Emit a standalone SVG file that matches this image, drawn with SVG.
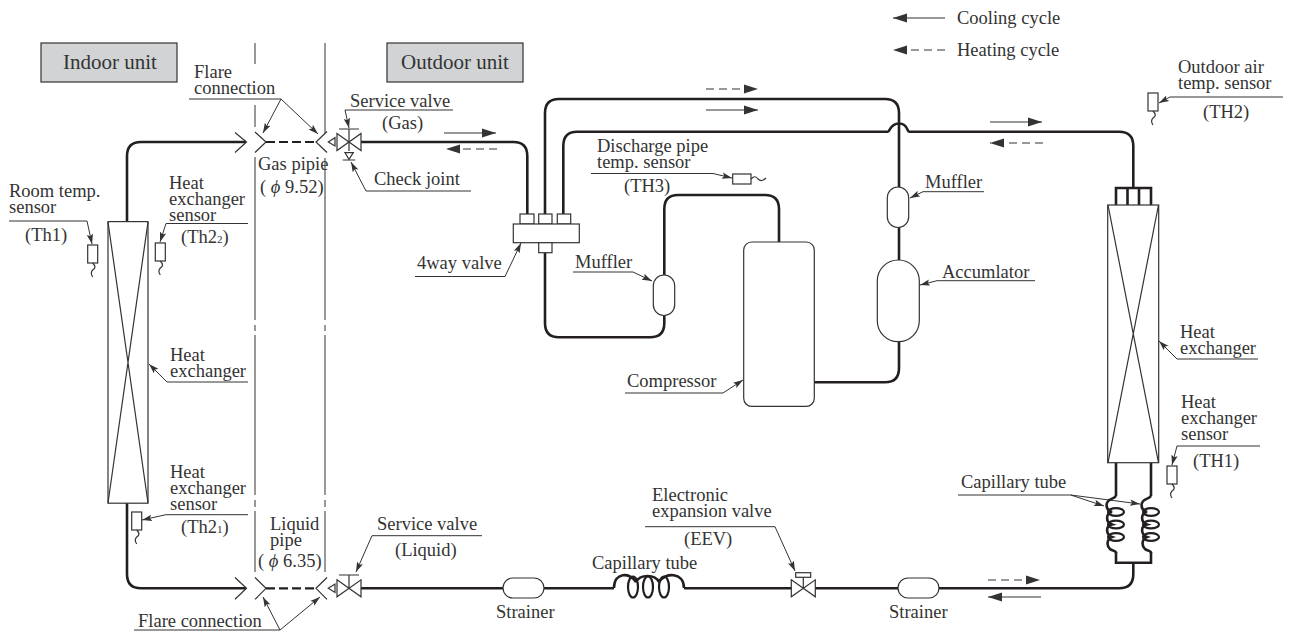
<svg xmlns="http://www.w3.org/2000/svg" width="1290" height="631" viewBox="0 0 1290 631">
<style>
text{font-family:"Liberation Serif","Times New Roman",serif;font-size:18.5px;fill:#333}
.big{font-size:21px}
.sub{font-size:11px}
.ital{font-style:italic}
.box{fill:#d1d3d4;stroke:#333;stroke-width:1.2}
.pipe{fill:none;stroke:#231f20;stroke-width:2.6}
.thin{fill:none;stroke:#333;stroke-width:1.2}
.sh{fill:#fff;stroke:#333;stroke-width:1.2}
.lead{fill:none;stroke:#333;stroke-width:1}
.arr{marker-end:url(#small)}
.flow{fill:none;stroke:#333;stroke-width:1.1;marker-end:url(#big)}
.dash{stroke-dasharray:8 5}
.pdash{fill:none;stroke:#231f20;stroke-width:2.2;stroke-dasharray:9 4}
.vl{fill:none;stroke:#555;stroke-width:1.2}
.loop{fill:none;stroke:#231f20;stroke-width:2.2}
</style>
<defs>
<marker id="small" markerUnits="userSpaceOnUse" markerWidth="11" markerHeight="8" refX="10" refY="4" orient="auto"><path d="M0,0.8 L10,4 L0,7.2 L2,4 Z" fill="#333"/></marker>
<marker id="big" markerUnits="userSpaceOnUse" markerWidth="15" markerHeight="10" refX="14" refY="5" orient="auto"><path d="M0,0.5 L14,5 L0,9.5 Z" fill="#333"/></marker>
<g id="sensor"><rect x="0" y="0" width="10" height="18" class="sh"/><path d="M5,18 c3,3 3,5 0,7 c-2,2 -2,4 0,7" class="thin"/></g>
<g id="vlv"><path d="M-12,-8.5 L12,8.5 L12,-8.5 L-12,8.5 Z" class="sh"/></g>
<g id="coil"><path d="M0,0 C-3,4 -9,2 -9.5,9 C-9.5,13 -7,15 -4,16 C-10,17 -11,26 -4,28.5 C-11,30 -10,39 -4,41 C-9.5,43 -9.5,50 -6,53 C-4,55 0,54 0,57" class="pipe"/><ellipse cx="0" cy="16" rx="8" ry="3.8" class="loop"/><ellipse cx="0" cy="28.5" rx="8" ry="3.8" class="loop"/><ellipse cx="0" cy="41" rx="8" ry="3.8" class="loop"/></g>
</defs>
<rect width="1290" height="631" fill="#fff"/>

<g id="connectors">
<path class="vl" d="M255,43V64M255,105V127M255,157V320M255,325V331M255,335V495M255,500V507M255,511V572"/>
<path class="vl" d="M325,43V133M325,158V320M325,325V331M325,335V495M325,500V507M325,511V572"/>
<path class="pipe" d="M127,222V156Q127,142 141,142H246"/>
<path class="pdash" d="M266,142H316"/>
<path class="pipe" d="M361,142H513.5Q527.3,142 527.3,156V214"/>
<path class="pipe" d="M545,214V113Q545,99 559,99H885Q899,99 899,113V187"/>
<path class="pipe" d="M899,227V260"/>
<path class="pipe" d="M899,342V368Q899,382.3 885,382.3H814"/>
<path class="pipe" d="M563.3,214V146Q563.3,131.7 577,131.7H888C890,131.7 890,123.5 899,123.5C908,123.5 907,131.7 909,131.7H1119Q1133.3,131.7 1133.3,146V188"/>
<path class="pipe" d="M1116,205V188H1151V205M1127.5,188V205M1139,188V205"/>
<path class="pipe" d="M545,253V323Q545,337.3 559,337.3H650Q664.3,337.3 664.3,323V315"/>
<path class="pipe" d="M664.3,275V209Q664.3,195 678,195H765Q779,195 779,209V242"/>
<path class="pipe" d="M1116,463V496M1151,463V496M1116,552V562.7H1151V552"/>
<path class="pipe" d="M1133.3,563V574Q1133.3,588.3 1119,588.3H938"/>
<path class="pipe" d="M127,503V574Q127,588.3 141,588.3H246"/>
<path class="pdash" d="M266,588.3H316"/>
<path class="pipe" d="M361,588.3H503M544,588.3H614M684,588.3H792M815,588.3H898"/>
<path class="thin" d="M235,132.5L246.5,142L235,152.5M235,577.5L246.5,588.3L235,599.3"/>
<path class="thin" d="M255,132L266,142L255,152.5M327,131.5L316,142L327,152.5M255,577.5L266,588.3L255,599.3M327,577.5L316,588.3L327,599.3"/>
<path class="flow" d="M444,133H496"/>
<path class="flow dash" d="M497,149H446"/>
<path class="flow dash" d="M706,89H758"/>
<path class="flow" d="M706,110H758"/>
<path class="flow" d="M990,122H1042"/>
<path class="flow dash" d="M1043,143H990"/>
<path class="flow dash" d="M988,580H1040"/>
<path class="flow" d="M1041,597H988"/>
<path class="flow" d="M945,18H893"/>
<path class="flow dash" d="M945,50H893"/>
<path class="lead" d="M189,99H281"/><path class="lead arr" d="M281,99L263,133"/><path class="lead arr" d="M281,99L318,134"/>
<path class="lead arr" d="M453,110H345L349,128"/>
<path class="lead arr" d="M471,191H366L351,162"/>
<path class="lead arr" d="M9,221H87L92,244"/>
<path class="lead arr" d="M248,223.5H166L160,242"/>
<path class="lead arr" d="M248,382H167L149,364"/>
<path class="lead arr" d="M248,514.7H166L142,520"/>
<path class="lead" d="M134,630H280"/><path class="lead arr" d="M280,630L263,597"/><path class="lead arr" d="M280,630L320,597"/>
<path class="lead arr" d="M482,535.7H372L356,572"/>
<path class="lead arr" d="M645,526.7H775L795,571"/>
<path class="lead arr" d="M415,276.5H505L521,243"/>
<path class="lead arr" d="M573,272H633L652,281"/>
<path class="lead arr" d="M591,173.5H713L732,178"/>
<path class="lead arr" d="M984,191.7H923L910,198"/>
<path class="lead arr" d="M1035,280.7H937L920,285"/>
<path class="lead arr" d="M625,393H723L743,380"/>
<path class="lead arr" d="M1283,97H1170L1159,103"/>
<path class="lead arr" d="M1258,359H1177L1159,341"/>
<path class="lead arr" d="M1260,446H1177L1172,465"/>
<path class="lead" d="M958,495H1070.7"/><path class="lead arr" d="M1070.7,495L1104,506"/><path class="lead arr" d="M1070.7,495L1140,504"/>
</g>

<g id="indoor-label"><rect class="box" x="41" y="43" width="136" height="39"/><text class="big" x="63" y="69">Indoor unit</text></g>
<g id="outdoor-label"><rect class="box" x="387" y="43" width="136" height="39"/><text class="big" x="401" y="69">Outdoor unit</text></g>

<g id="legend"><text x="957" y="24">Cooling cycle</text><text x="957" y="56">Heating cycle</text></g>

<g id="indoor-hx"><rect class="sh" x="108" y="221.6" width="40" height="281.6"/><path class="thin" d="M108,222L148,503M148,222L108,503"/>
<text x="170" y="361">Heat</text><text x="170" y="377">exchanger</text></g>
<g id="room-sensor"><use href="#sensor" x="87.7" y="245"/><text x="9" y="197">Room temp.</text><text x="9" y="213">sensor</text><text x="25" y="241">(Th1)</text></g>
<g id="th22-sensor"><use href="#sensor" x="155.3" y="243"/><text x="169" y="189">Heat</text><text x="169" y="205">exchanger</text><text x="169" y="221">sensor</text><text x="181" y="243">(Th2<tspan class="sub">2</tspan>)</text></g>
<g id="th21-sensor"><use href="#sensor" x="131.7" y="512"/><text x="170" y="478">Heat</text><text x="170" y="494">exchanger</text><text x="170" y="510">sensor</text><text x="181" y="533">(Th2<tspan class="sub">1</tspan>)</text></g>

<g id="flare-gas"><text x="194" y="78">Flare</text><text x="194" y="94">connection</text></g>
<g id="gas-pipe-label"><text x="258" y="170">Gas pipie</text><text x="260" y="193">( <tspan class="ital">ϕ</tspan> 9.52)</text></g>
<g id="liquid-pipe-label"><text x="270" y="530">Liquid</text><text x="270" y="546">pipe</text><text x="258" y="567">( <tspan class="ital">ϕ</tspan> 6.35)</text></g>
<g id="flare-liquid"><text x="138" y="626.5">Flare connection</text></g>

<g id="service-valve-gas"><path class="sh" d="M328.3,142L335,137.7V146Z"/><use href="#vlv" x="349" y="142"/>
<path class="thin" d="M349,129V151M339,129H359M342.7,160H355.3"/><path class="sh" d="M345,152.7H353.3L349,159.3Z"/>
<text x="350" y="107">Service valve</text><text x="382" y="129">(Gas)</text><text x="374" y="185">Check joint</text></g>

<g id="service-valve-liquid"><path class="sh" d="M328.3,588.3L335,584V592.5Z"/><use href="#vlv" x="349" y="588.3"/>
<path class="thin" d="M349,575V588M339,575H359"/>
<text x="377" y="530">Service valve</text><text x="395" y="556">(Liquid)</text></g>

<g id="four-way-valve"><rect class="sh" x="520" y="214" width="14" height="10"/><rect class="sh" x="538.7" y="214" width="13.3" height="10"/><rect class="sh" x="557.3" y="214" width="13.4" height="10"/><rect class="sh" x="513.3" y="224" width="66" height="18.7"/><rect class="sh" x="538.7" y="242.7" width="13.3" height="10"/>
<text x="417" y="269">4way valve</text></g>

<g id="muffler-left"><rect class="sh" x="653.3" y="275" width="21.4" height="40.5" rx="10.7"/><text x="575" y="268">Muffler</text></g>
<g id="muffler-right"><rect class="sh" x="887.3" y="187" width="21.4" height="40.5" rx="10.7"/><text x="925" y="187.7">Muffler</text></g>
<g id="accumulator"><rect class="sh" x="877.3" y="260" width="42" height="81.7" rx="21"/><text x="942" y="277.7">Accumlator</text></g>
<g id="compressor"><rect class="sh" x="743.7" y="242" width="70.6" height="164.3" rx="8"/><text x="627" y="387">Compressor</text></g>
<g id="discharge-sensor"><rect class="sh" x="732.7" y="174" width="18.3" height="10"/><path class="thin" d="M751,179c3,-3 5,-3 7,0c2,2 5,2 8,-1"/><text x="597" y="152">Discharge pipe</text><text x="597" y="168">temp. sensor</text><text x="624" y="192">(TH3)</text></g>
<g id="outdoor-air-sensor"><use href="#sensor" x="1148" y="93"/><text x="1178" y="73">Outdoor air</text><text x="1178" y="89">temp. sensor</text><text x="1203" y="118">(TH2)</text></g>

<g id="outdoor-hx"><rect class="sh" x="1107.7" y="205" width="51" height="257.7"/><path class="thin" d="M1108,205L1158.5,462.7M1158.5,205L1108,462.7"/><text x="1180" y="338">Heat</text><text x="1180" y="354">exchanger</text></g>
<g id="th1-sensor"><use href="#sensor" x="1167" y="466"/><text x="1181" y="408">Heat</text><text x="1181" y="424">exchanger</text><text x="1181" y="440">sensor</text><text x="1193" y="467">(TH1)</text></g>
<g id="capillary-right"><use href="#coil" x="1116" y="496"/><use href="#coil" x="1151" y="496"/><text x="961" y="488">Capillary tube</text></g>

<g id="strainer-1"><rect class="sh" x="503" y="578" width="41" height="20" rx="10"/><text x="496" y="618">Strainer</text></g>
<g id="capillary-bottom"><path class="pipe" d="M614,588C614,572 630,572 636,582M636,582C640,574 655,574 659,582M659,582C665,572 684,572 684,588"/>
<ellipse cx="633" cy="587" rx="5" ry="10.5" class="loop"/><ellipse cx="648" cy="587" rx="5" ry="10.5" class="loop"/><ellipse cx="664" cy="587" rx="5" ry="10.5" class="loop"/><text x="592" y="569">Capillary tube</text></g>
<g id="eev"><use href="#vlv" x="803.3" y="588.3"/><path class="thin" d="M803.3,577V588"/><rect class="sh" x="795.7" y="572.7" width="15" height="4.6"/><text x="652" y="501">Electronic</text><text x="652" y="517">expansion valve</text><text x="684" y="545">(EEV)</text></g>
<g id="strainer-2"><rect class="sh" x="898" y="578" width="41" height="20" rx="10"/><text x="889" y="618">Strainer</text></g>
</svg>
